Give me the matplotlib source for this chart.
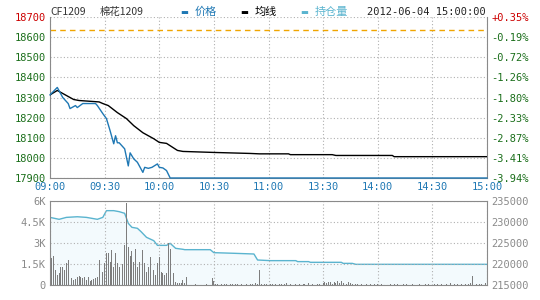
import numpy as np
import matplotlib
matplotlib.use("Agg")
import matplotlib.pyplot as plt

plt.rcParams['font.family'] = ['DejaVu Sans Mono', 'Noto Sans CJK SC']

# price (blue) and average (black) lines, clock time -> value
price_time = ["09:00", "09:04", "09:07", "09:10", "09:11", "09:14", "09:15", "09:18", "09:25",
              "09:26", "09:29", "09:31", "09:33", "09:35", "09:36", "09:37", "09:38", "09:41",
              "09:43", "09:44", "09:46", "09:48", "09:51", "09:52", "09:54", "09:56", "09:59",
              "10:00", "10:02", "10:04", "10:06", "15:00"]
price = [18313, 18350, 18300, 18270, 18245, 18260, 18250, 18270, 18270,
         18260, 18220, 18195, 18135, 18070, 18110, 18075, 18075, 18045,
         17960, 18025, 17995, 17978, 17928, 17953, 17948, 17953, 17970,
         17953, 17950, 17937, 17900, 17900]

avg_time = ["09:00", "09:04", "09:09", "09:13", "09:16", "09:27", "09:29", "09:32", "09:37",
            "09:42", "09:46", "09:51", "09:57", "10:00", "10:04", "10:10", "10:13", "10:30",
            "10:50", "10:55", "11:11", "11:12", "13:35", "13:37", "14:08", "14:09", "15:00"]
avg = [18313, 18335, 18310, 18290, 18285, 18278, 18270, 18260, 18225,
       18195, 18160, 18125, 18095, 18077, 18072, 18037, 18032, 18027,
       18022, 18020, 18020, 18016, 18016, 18012, 18012, 18006, 18006]

prev_settle = 18635

# open interest (right axis of lower panel)
oi_time = ["09:00", "09:05", "09:09", "09:15", "09:20", "09:26", "09:29", "09:31", "09:35",
           "09:38", "09:41", "09:43", "09:45", "09:48", "09:50", "09:53", "09:57", "09:59",
           "10:04", "10:06", "10:09", "10:13", "10:14", "10:28", "10:30", "10:41", "10:52",
           "10:54", "11:01", "11:15", "11:16", "11:22", "11:23", "13:40", "13:41", "13:46",
           "13:48", "15:00"]
oi = [231100, 230640, 231100, 231250, 231100, 230640, 231100, 232700, 232700,
      232460, 232070, 229680, 228730, 228500, 227700, 226350, 225550, 224440,
      224440, 224920, 223730, 223500, 223410, 223410, 222700, 222550, 222380,
      220950, 220800, 220800, 220570, 220570, 220400, 220400, 220150, 220150,
      219920, 219920]

# volume per minute of the session
volume = [
    1500, 1900, 2100, 1070, 700, 830, 1300, 1300, 1070, 1550,
    1800, 600, 500, 360, 400, 550, 640, 550, 500, 550,
    360, 550, 310, 360, 400, 500, 550, 1800, 1600, 950,
    1550, 2300, 2300, 1670, 2500, 1300, 2300, 1550, 1300, 1070,
    1500, 2860, 5830, 2700, 2070, 2400, 1670, 2600, 1300, 1670,
    2140, 2500, 1550, 950, 1300, 2000, 1800, 1070, 700, 1550,
    2000, 950, 830, 700, 830, 2980, 2600, 2000, 830, 240,
    120, 120, 120, 360, 120, 550, 30, 0, 50, 0,
    40, 0, 0, 30, 0, 0, 40, 0, 0, 500,
    300, 80, 60, 0, 50, 0, 70, 40, 0, 90,
    60, 0, 40, 80, 0, 50, 110, 0, 60, 0,
    90, 70, 0, 120, 50, 1100, 60, 0, 80, 50,
    0, 100, 40, 0, 70, 0, 60, 90, 0, 50,
    120, 0, 80, 0, 60, 40, 0, 90, 0, 70,
    50, 0, 110, 0, 60, 80, 0, 40, 90, 0,
    150, 200, 120, 250, 180, 90, 220, 160, 300, 140,
    260, 110, 190, 80, 230, 120, 60, 0, 80, 40,
    0, 70, 0, 50, 90, 0, 60, 0, 40, 0,
    80, 0, 50, 0, 70, 0, 0, 60, 0, 40,
    0, 90, 0, 0, 50, 0, 70, 0, 0, 60,
    0, 40, 0, 80, 0, 0, 50, 0, 60, 0,
    0, 90, 0, 40, 0, 70, 0, 0, 60, 0,
    110, 0, 50, 0, 80, 0, 40, 0, 90, 0,
    60, 120, 640, 0, 70, 0, 50, 90, 0, 110,
]

time_labels = ["09:00", "09:30", "10:00", "10:30", "11:00", "13:30", "14:00", "14:30", "15:00"]
price_ticks = [17900, 18000, 18100, 18200, 18300, 18400, 18500, 18600, 18700]
vol_ticks = [0, 1500, 3000, 4500, 6000]
vol_labels = ["0", "1.5K", "3K", "4.5K", "6K"]
oi_ticks = [215000, 220000, 225000, 230000, 235000]


def session_minute(t):
    h, m = map(int, t.split(":"))
    mins = h * 60 + m - 540
    if mins > 150:  # skip lunch break 11:30-13:30
        mins -= 120
    return mins


BLUE = '#1f78b4'
GREEN = '#1a6e1a'
RED = '#cc0000'
GRAY = '#8a8a8a'
OI_COLOR = '#5ab4cf'
GRID = dict(color='#b0b0b0', linestyle=(0, (1, 2)), linewidth=0.8)

fig = plt.figure(figsize=(5.4, 3.0), dpi=100)
ax1 = fig.add_axes([50 / 540, 1 - 178 / 300, 437 / 540, 161 / 300])
ax2 = fig.add_axes([50 / 540, 1 - 285 / 300, 437 / 540, 84 / 300])

xt = [session_minute(t) for t in time_labels]

# ---- upper panel
ax1.plot([session_minute(t) for t in avg_time], avg, color='black', lw=1.0, zorder=3)
ax1.plot([session_minute(t) for t in price_time], price, color=BLUE, lw=1.0, zorder=4,
         clip_on=False)
ax1.axhline(prev_settle, color='#f0a500', lw=1.0, linestyle=(0, (4, 3)), zorder=2)
ax1.set_xlim(0, 240)
ax1.set_ylim(17900, 18700)
ax1.set_xticks(xt)
ax1.set_xticklabels(time_labels, color=BLUE, fontsize=7.5)
ax1.set_yticks(price_ticks)
ax1.set_yticklabels([str(v) for v in price_ticks], fontsize=7.5)
for lab, v in zip(ax1.get_yticklabels(), price_ticks):
    lab.set_color(RED if v > prev_settle else GREEN)
ax1.tick_params(length=0, pad=3)
ax1.grid(True, **GRID)
ax1.spines['top'].set_visible(False)
for s in ['left', 'right', 'bottom']:
    ax1.spines[s].set_color(GRAY)

ax1r = ax1.twinx()
ax1r.set_ylim(17900, 18700)
ax1r.set_yticks(price_ticks)
pct = [(v / prev_settle - 1) * 100 for v in price_ticks]
ax1r.set_yticklabels([f"{p:+.2f}%" for p in pct], fontsize=7.5)
for lab, p in zip(ax1r.get_yticklabels(), pct):
    lab.set_color(RED if p > 0 else GREEN)
ax1r.tick_params(length=0, pad=3)
for s in ax1r.spines.values():
    s.set_visible(False)

# ---- lower panel
ax2r = ax2.twinx()
ax2.bar(np.arange(len(volume)), volume, width=0.5, color='#7d7d7d', zorder=3)
ax2.set_xlim(0, 240)
ax2.set_ylim(0, 6000)
ax2.set_xticks(xt)
ax2.set_xticklabels([])
ax2.set_yticks(vol_ticks)
ax2.set_yticklabels(vol_labels, color=GRAY, fontsize=7.5)
ax2.tick_params(length=0, pad=3)
ax2.grid(True, **GRID)
for s in ax2.spines.values():
    s.set_color(GRAY)

oi_x = [session_minute(t) for t in oi_time]
ax2r.fill_between(oi_x, oi, 215000, color='#f3fafd', lw=0, zorder=1)
ax2r.plot(oi_x, oi, color=OI_COLOR, lw=1.0, zorder=4)
ax2r.set_ylim(215000, 235000)
ax2r.set_yticks(oi_ticks)
ax2r.set_yticklabels([str(v) for v in oi_ticks], color=GRAY, fontsize=7.5)
ax2r.tick_params(length=0, pad=3)
for s in ax2r.spines.values():
    s.set_visible(False)
ax2.set_zorder(ax2r.get_zorder() + 1)
ax2.patch.set_visible(False)

# ---- header
cjk = ['Noto Sans CJK SC', 'DejaVu Sans']
fig.text(50 / 540, 1 - 12 / 300, "CF1209", fontsize=7.5, color='#333333', va='center', family=cjk)
fig.text(100 / 540, 1 - 12 / 300, "棉花1209", fontsize=7.5, color='#333333', va='center', family=cjk)
for x0, label, col in [(180, "价格", BLUE), (240, "均线", 'black'), (300, "持仓量", OI_COLOR)]:
    fig.text(x0 / 540, 1 - 12 / 300, "▬", fontsize=6, color=col, va='center', family=['DejaVu Sans'])
    fig.text((x0 + 15) / 540, 1 - 12 / 300, label, fontsize=8, color=col, va='center', family=cjk)
fig.text(486 / 540, 1 - 12 / 300, "2012-06-04 15:00:00", fontsize=7.5, color='#222222',
         va='center', ha='right')

fig.savefig("out.png", dpi=100)
